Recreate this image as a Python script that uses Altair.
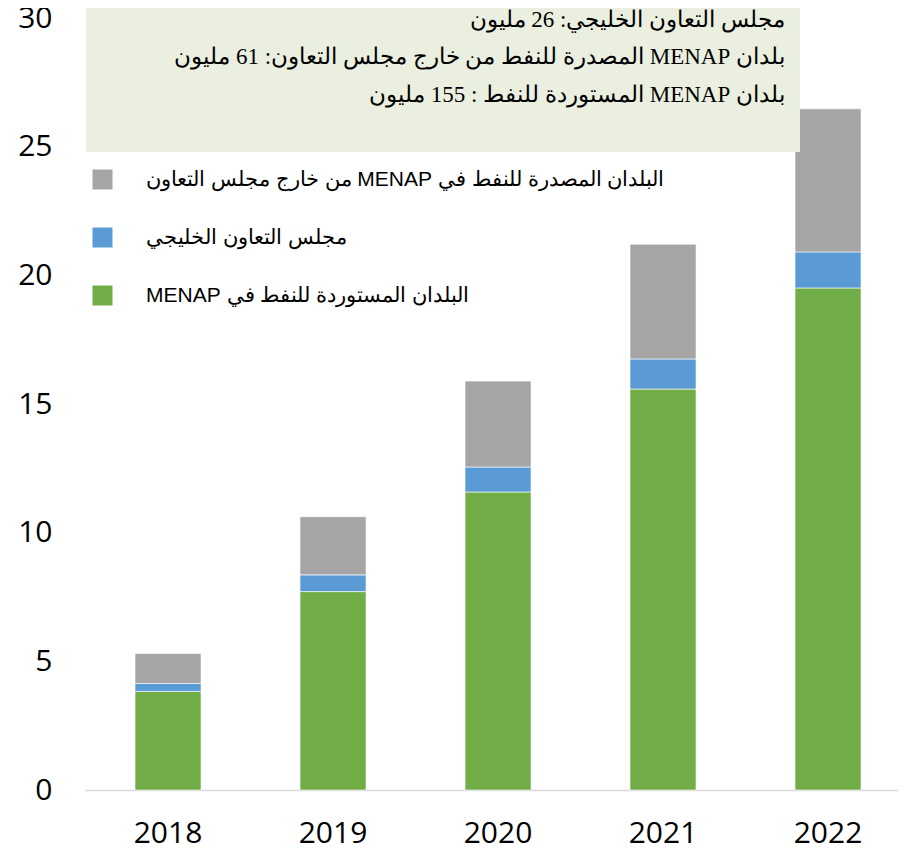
import altair as alt
import pandas as pd

years = ["2018", "2019", "2020", "2021", "2022"]
series_names = [
    "البلدان المصدرة للنفط في MENAP من خارج مجلس التعاون",
    "مجلس التعاون الخليجي",
    "البلدان المستوردة للنفط في MENAP",
]
series_colors = ["#A5A5A5", "#5B9BD5", "#70AD47"]
# segment values (stack bottom to top: importers, GCC, non-GCC exporters)
importers = [3.83, 7.71, 11.58, 15.58, 19.51]
gcc = [0.31, 0.65, 0.97, 1.17, 1.40]
non_gcc = [1.16, 2.26, 3.34, 4.46, 5.56]
y_ticks = [0, 5, 10, 15, 20, 25, 30]
box_lines = [
    "مجلس التعاون الخليجي: 26 مليون",
    "بلدان MENAP المصدرة للنفط من خارج مجلس التعاون: 61 مليون",
    "بلدان MENAP المستوردة للنفط : 155 مليون",
]

RLE, PDF = "\u202b", "\u202c"

rows = []
for i, yr in enumerate(years):
    rows.append({"year": yr, "series": series_names[2], "value": importers[i], "rank": 0})
    rows.append({"year": yr, "series": series_names[1], "value": gcc[i], "rank": 1})
    rows.append({"year": yr, "series": series_names[0], "value": non_gcc[i], "rank": 2})
df = pd.DataFrame(rows)

bars = alt.Chart(df).mark_bar(stroke="#ffffff", strokeWidth=1, strokeOpacity=0.6).encode(
    x=alt.X("year:N", title=None,
            scale=alt.Scale(paddingInner=0.6, paddingOuter=0.2636, align=0.575),
            axis=alt.Axis(labelAngle=0, labelFontSize=30, labelFont="Open Sans",
                          labelColor="#000000", ticks=False, tickSize=0, labelPadding=28,
                          domainColor="#D9D9D9", domainWidth=1.5)),
    y=alt.Y("value:Q", title=None, stack="zero",
            scale=alt.Scale(domain=[0, 30], nice=False),
            axis=alt.Axis(values=y_ticks, labelFontSize=30, labelFont="Open Sans",
                          labelColor="#000000", ticks=False, tickSize=0, domain=False,
                          grid=False, labelPadding=33)),
    color=alt.Color("series:N",
                    scale=alt.Scale(domain=series_names, range=series_colors),
                    legend=alt.Legend(orient="none", legendX=7, legendY=151, title=None,
                                      symbolType="square", symbolSize=400,
                                      symbolStrokeWidth=0, labelFontSize=21,
                                      labelFont="Liberation Sans", labelColor="#000000",
                                      labelOffset=33, rowPadding=36, padding=0,
                                      labelLimit=700,
                                      labelExpr=f"'{RLE}' + datum.label + '{PDF}'")),
    order=alt.Order("rank:Q", sort="ascending"),
)

box = alt.Chart(pd.DataFrame({"k": [0]})).mark_rect(color="#EBEFE0").encode(
    x=alt.value(1), x2=alt.value(715), y=alt.value(-10), y2=alt.value(134)
)

box_text_layers = []
line_y = [2, 39, 77]
for ln, yy in zip(box_lines, line_y):
    box_text_layers.append(
        alt.Chart(pd.DataFrame({"t": [RLE + ln + PDF]})).mark_text(
            align="right", baseline="middle", fontSize=23, font="Liberation Serif",
            color="#000000"
        ).encode(text="t:N", x=alt.value(700), y=alt.value(yy))
    )

chart = alt.layer(bars, box, *box_text_layers).properties(
    width=813, height=772,
    padding={"left": 77, "top": 10, "right": 0, "bottom": 56},
    autosize=alt.AutoSizeParams(type="none"),
).configure(background="#ffffff", view=alt.ViewConfig(stroke=None))

chart.save("out.html", embed_options={"renderer": "svg", "actions": False})
